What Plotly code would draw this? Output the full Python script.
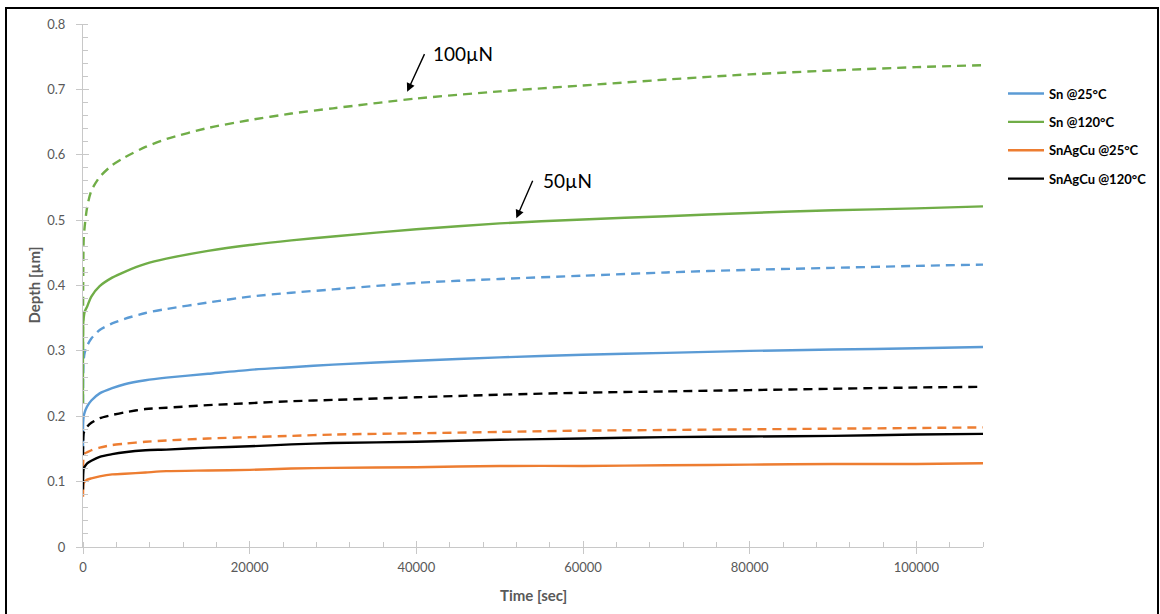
import plotly.graph_objects as go

# ---------------- data ----------------
time_s = [0, 20, 80, 200, 500, 1000, 2000, 3500, 5000, 7500, 10000, 15000,
          20000, 25000, 30000, 40000, 50000, 60000, 70000, 80000, 90000,
          100000, 108000]

# 50 uN (solid lines)
sn25_50 = [0.150, 0.190, 0.200, 0.206, 0.215, 0.224, 0.235, 0.243, 0.249, 0.255,
           0.259, 0.265, 0.271, 0.275, 0.279, 0.285, 0.290, 0.294, 0.297, 0.300,
           0.302, 0.304, 0.306]
sn120_50 = [0.220, 0.340, 0.350, 0.360, 0.368, 0.383, 0.399, 0.412, 0.421, 0.433,
            0.441, 0.453, 0.462, 0.469, 0.475, 0.486, 0.495, 0.501, 0.506, 0.511,
            0.515, 0.518, 0.521]
sac25_50 = [0.077, 0.092, 0.098, 0.100, 0.103, 0.105, 0.108, 0.111, 0.112, 0.114,
            0.116, 0.117, 0.118, 0.120, 0.121, 0.122, 0.124, 0.124, 0.125, 0.126,
            0.127, 0.127, 0.128]
sac120_50 = [0.088, 0.110, 0.120, 0.123, 0.128, 0.132, 0.138, 0.142, 0.145, 0.148,
             0.149, 0.152, 0.154, 0.157, 0.159, 0.161, 0.164, 0.166, 0.168, 0.169,
             0.170, 0.172, 0.173]

# 100 uN (dashed lines)
sn25_100 = [0.220, 0.260, 0.286, 0.297, 0.308, 0.319, 0.332, 0.342, 0.349, 0.358,
            0.364, 0.374, 0.383, 0.389, 0.394, 0.404, 0.410, 0.415, 0.420, 0.424,
            0.427, 0.430, 0.432]
sn120_100 = [0.300, 0.400, 0.470, 0.490, 0.520, 0.545, 0.566, 0.584, 0.596, 0.612,
             0.624, 0.641, 0.653, 0.663, 0.671, 0.686, 0.697, 0.706, 0.715, 0.723,
             0.729, 0.734, 0.737]
sac25_100 = [0.120, 0.130, 0.141, 0.143, 0.145, 0.148, 0.152, 0.156, 0.158, 0.161,
             0.163, 0.166, 0.168, 0.170, 0.172, 0.174, 0.176, 0.178, 0.179, 0.180,
             0.181, 0.182, 0.183]
sac120_100 = [0.140, 0.160, 0.174, 0.178, 0.184, 0.190, 0.197, 0.202, 0.206, 0.211,
              0.213, 0.217, 0.220, 0.223, 0.225, 0.229, 0.233, 0.236, 0.238, 0.240,
              0.242, 0.244, 0.245]

series_names = ["Sn @25°C", "Sn @120°C", "SnAgCu @25°C", "SnAgCu @120°C"]
series_colors = ["#5B9BD5", "#70AD47", "#ED7D31", "#000000"]
solid_sets = [sn25_50, sn120_50, sac25_50, sac120_50]
dashed_sets = [sn25_100, sn120_100, sac25_100, sac120_100]

x_ticks = [0, 20000, 40000, 60000, 80000, 100000]
y_ticks = [0, 0.1, 0.2, 0.3, 0.4, 0.5, 0.6, 0.7, 0.8]

FONT = "Lato"
GRAY = "#595959"
AXC = "#C8C8C8"

fig = go.Figure()
for name, color, ys_solid, ys_dash in zip(series_names, series_colors, solid_sets, dashed_sets):
    fig.add_trace(go.Scatter(x=time_s, y=ys_dash, mode="lines", name=name,
                             legendgroup=name, showlegend=False,
                             line=dict(color=color, width=2.4, dash="9px,6px",
                                       shape="spline", smoothing=0.7)))
    fig.add_trace(go.Scatter(x=time_s, y=ys_solid, mode="lines", name=name,
                             legendgroup=name, showlegend=True,
                             line=dict(color=color, width=2.4,
                                       shape="spline", smoothing=0.7)))

# overlay axes provide the inner half of the "cross" major ticks
fig.add_trace(go.Scatter(x=[None], y=[None], xaxis="x2", yaxis="y2",
                         showlegend=False, hoverinfo="skip"))

L, R, T, B = 83, 177, 24, 67
W, H = 1160, 614
pw, ph = W - L - R, H - T - B


def px(xp):
    return (xp - L) / pw


def py(yp):
    return (H - B - yp) / ph


common_x = dict(range=[0, 108000], tickvals=x_ticks, showgrid=False, zeroline=False)
common_y = dict(range=[0, 0.8], tickvals=y_ticks, showgrid=False, zeroline=False)

fig.update_layout(
    width=W, height=H,
    margin=dict(l=L, r=R, t=T, b=B, autoexpand=False),
    paper_bgcolor="white", plot_bgcolor="white",
    font=dict(family=FONT, color=GRAY, size=13),
    xaxis=dict(**common_x, tickformat="d", showline=True, linecolor=AXC, linewidth=1,
               ticks="outside", ticklen=6, tickcolor=AXC, ticklabelstandoff=2,
               tickfont=dict(size=13, color=GRAY, family=FONT),
               minor=dict(dtick=4000, ticks="inside", ticklen=5, tickcolor=AXC)),
    yaxis=dict(**common_y, showline=True, linecolor=AXC, linewidth=1,
               ticks="outside", ticklen=6, tickcolor=AXC, ticklabelstandoff=8,
               tickfont=dict(size=13, color=GRAY, family=FONT),
               minor=dict(dtick=0.02, ticks="inside", ticklen=5, tickcolor=AXC)),
    xaxis2=dict(**common_x, overlaying="x", anchor="y2", showticklabels=False,
                ticks="inside", ticklen=6, tickcolor=AXC, showline=False),
    yaxis2=dict(**common_y, overlaying="y", anchor="x2", side="left", showticklabels=False,
                ticks="inside", ticklen=6, tickcolor=AXC, showline=False),
    legend=dict(x=px(1003), y=py(78.5), xanchor="left", yanchor="top",
                traceorder="grouped", tracegroupgap=8.5,
                font=dict(family=FONT, size=13, color="#000000", weight="bold"),
                bgcolor="rgba(0,0,0,0)", itemwidth=36),
    showlegend=True,
)

# axis titles
fig.add_annotation(text="<b>Time [sec]</b>", xref="paper", yref="paper",
                   x=0.5, y=py(595), xanchor="center", yanchor="middle", showarrow=False,
                   font=dict(family=FONT, size=15, color=GRAY))
fig.add_annotation(text="<b>Depth [µm]</b>", xref="paper", yref="paper",
                   x=px(33), y=0.5, xanchor="center", yanchor="middle",
                   textangle=-90, showarrow=False,
                   font=dict(family=FONT, size=15, color=GRAY))

# load labels with arrows
fig.add_annotation(text="100µN", x=41800, y=0.755, xanchor="left", yanchor="middle",
                   showarrow=False, font=dict(family=FONT, size=19, color="#000000"))
fig.add_annotation(text="", x=38900, y=0.6965, ax=18, ay=-39, showarrow=True,
                   arrowhead=2, arrowsize=1.2, arrowwidth=1.4, arrowcolor="#000000")
fig.add_annotation(text="50µN", x=54900, y=0.560, xanchor="left", yanchor="middle",
                   showarrow=False, font=dict(family=FONT, size=19, color="#000000"))
fig.add_annotation(text="", x=52000, y=0.5028, ax=17, ay=-39, showarrow=True,
                   arrowhead=2, arrowsize=1.2, arrowwidth=1.4, arrowcolor="#000000")

# outer frame of the picture
fig.add_shape(type="rect", xref="paper", yref="paper",
              x0=px(6), x1=px(1158), y0=py(640), y1=py(8),
              line=dict(color="#000000", width=2), fillcolor="rgba(0,0,0,0)", layer="above")

fig.write_html("out.html")
